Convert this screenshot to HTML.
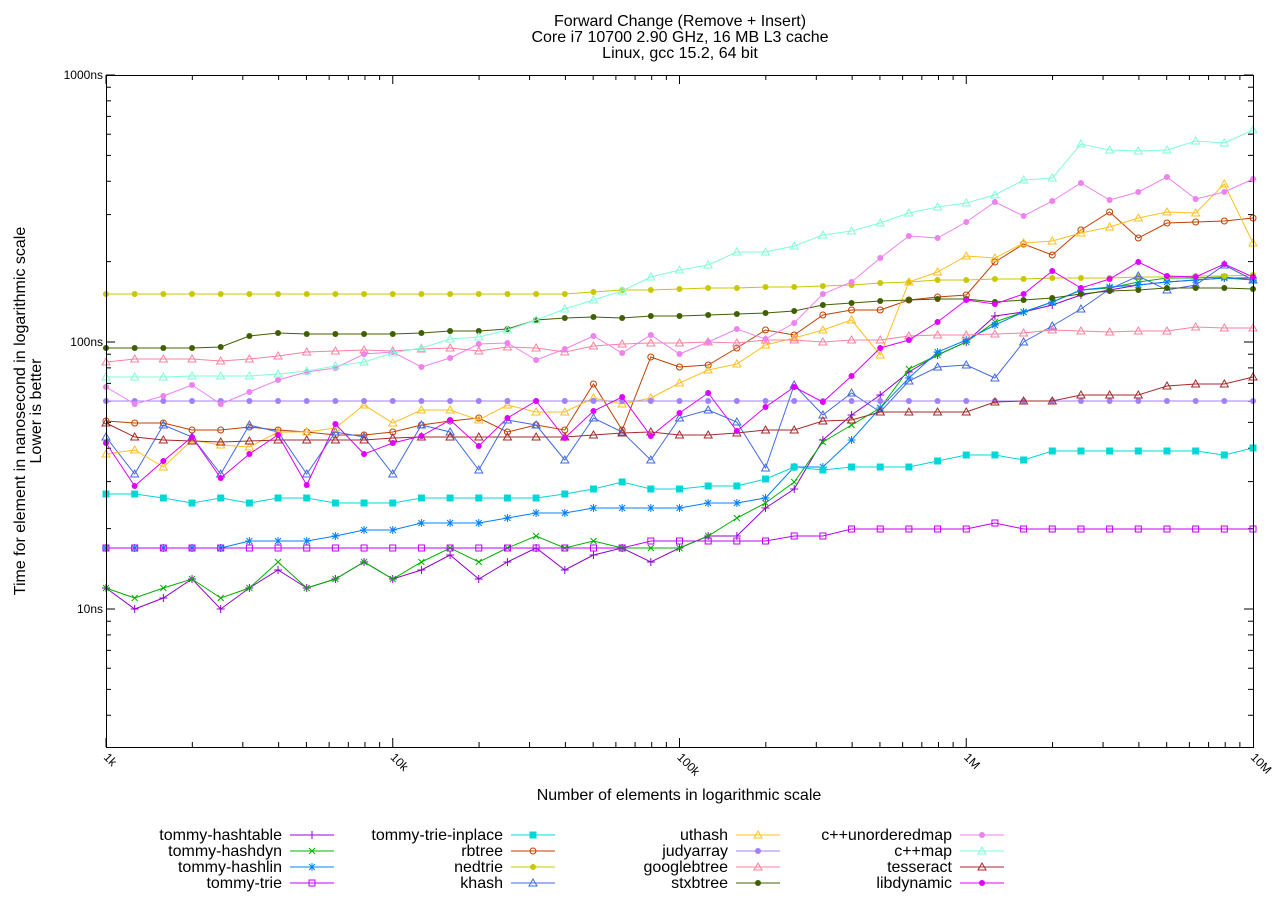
<!DOCTYPE html>
<html><head><meta charset="utf-8"><style>
html,body{margin:0;padding:0;background:#fff;}
svg text{font-family:"Liberation Sans",Arial,sans-serif;}
</style></head><body>
<svg id="s" width="1280" height="900" xmlns="http://www.w3.org/2000/svg">
<rect width="1280" height="900" fill="#fff"/>
<g font-size="16" text-anchor="middle" fill="#000">
<text x="680" y="26">Forward Change (Remove + Insert)</text>
<text x="680" y="42">Core i7 10700 2.90 GHz, 16 MB L3 cache</text>
<text x="680" y="58">Linux, gcc 15.2, 64 bit</text>
<text x="679" y="800">Number of elements in logarithmic scale</text>
<text transform="translate(25,411) rotate(-90)">Time for element in nanosecond in logarithmic scale</text>
<text transform="translate(41,411) rotate(-90)">Lower is better</text>
</g>
<g font-size="12" text-anchor="end">
<text x="103" y="79">1000ns</text>
<text x="103" y="346">100ns</text>
<text x="103" y="613">10ns</text>
</g>
<g id="ticks" stroke="#000" stroke-width="1"></g>
<g id="series"></g>
<rect x="106.5" y="75.5" width="1147" height="672" fill="none" stroke="#000"/>
<g id="legend" font-size="16"></g>
</svg>
<script>
const NS="http://www.w3.org/2000/svg";
function el(t,a,p){const e=document.createElementNS(NS,t);for(const k in a)e.setAttribute(k,a[k]);p.appendChild(e);return e;}
const tk=document.getElementById('ticks');
const X0=106,DX=286.75,Y0=75,DY=267;
for(let d=0;d<4;d++){for(let m=1;m<10;m++){const x=X0+DX*(d+Math.log10(m));const L=m==1?9:5;
el('line',{x1:x,y1:747,x2:x,y2:747-L},tk);el('line',{x1:x,y1:75,x2:x,y2:75+L},tk);}}
const xl=['1k','10k','100k','1M','10M'];
xl.forEach((t,i)=>{const x=X0+DX*i;const tx=el('text',{x:0,y:0,'font-size':12,transform:`translate(${x-3},${758}) rotate(45)`},document.getElementById('s'));tx.textContent=t;});
for(let d=-1;d<3;d++){for(let m=1;m<10;m++){const yy=Y0+DY*(2-d-Math.log10(m));if(yy<75||yy>747)continue;const L=m==1?9:5;
el('line',{x1:106,y1:yy,x2:106+L,y2:yy},tk);el('line',{x1:1253,y1:yy,x2:1253-L,y2:yy},tk);}}
const S=[
['tommy-hashtable','#9400d3','plus',[588,609,598,579,609,588,570,588,579,562,579,570,555,579,562,548,570,555,548,562,548,536,536,508,489,440,415,395,372,355,342,316,312,305,295,290,285,282,280,278,278]],
['tommy-hashdyn','#00b000','x',[588,598,588,579,598,588,562,588,579,562,579,562,548,562,548,536,548,541,548,548,548,536,518,503,482,442,425,408,369,355,342,322,312,302,290,288,282,278,278,277,280]],
['tommy-hashlin','#0080ff','star',[548,548,548,548,548,541,541,541,536,530,530,523,523,523,518,513,513,508,508,508,508,503,503,498,467,467,440,408,378,352,340,325,312,302,290,287,285,282,280,278,280]],
['tommy-trie','#c000ff','osq',[548,548,548,548,548,548,548,548,548,548,548,548,548,548,548,548,548,548,548,541,541,541,541,541,536,536,529,529,529,529,529,523,529,529,529,529,529,529,529,529,529]],
['tommy-trie-inplace','#00d8d8','fsq',[494,494,498,503,498,503,498,498,503,503,503,498,498,498,498,498,494,489,482,489,489,486,486,479,467,470,467,467,467,461,455,455,460,451,451,451,451,451,451,455,448]],
['rbtree','#c04000','ocir',[421,423,423,430,430,427,430,432,435,435,432,425,421,418,432,425,430,384,430,357,367,365,348,330,335,315,310,310,300,297,295,262,244,255,230,212,238,223,222,221,218]],
['nedtrie','#c8c800','fcir',[294,294,294,294,294,294,294,294,294,294,294,294,294,294,294,294,294,292,290,290,289,288,288,287,287,286,285,283,282,280,280,279,279,278,278,278,277,277,276,276,275]],
['khash','#4169e1','otri',[437,474,425,437,474,425,432,474,432,437,474,425,432,470,420,425,460,418,432,460,418,410,422,468,385,415,393,412,381,367,365,378,342,326,309,289,276,290,285,265,280]],
['uthash','#ffc020','otri',[454,450,467,440,445,447,432,432,428,405,423,410,410,420,405,412,412,398,404,398,383,370,364,345,338,330,320,355,282,272,256,258,243,241,233,227,218,212,213,184,243]],
['judyarray','#a080ff','fcir',Array(41).fill(401)],
['googlebtree','#ff80a0','otri',[362,359,359,359,361,359,356,352,351,350,351,349,348,351,347,348,352,346,344,343,343,342,343,340,340,342,340,340,336,335,335,334,333,330,331,332,331,331,327,328,328]],
['stxbtree','#406000','fcir',[348,348,348,348,347,336,333,334,334,334,334,333,331,331,329,320,318,317,318,316,316,315,314,313,311,305,303,301,300,299,299,302,300,298,294,291,290,288,288,288,289]],
['c++unorderedmap','#ee82ee','fcir',[387,404,396,385,404,392,380,372,368,354,352,367,358,344,343,360,349,336,353,335,354,342,329,339,323,294,282,258,236,238,222,202,216,201,183,200,192,177,199,192,179]],
['c++map','#7fffd4','otri',[377,377,377,376,376,376,374,371,366,362,353,348,339,337,330,320,309,300,291,277,270,265,252,252,246,235,231,223,213,207,203,195,180,178,144,150,151,150,141,143,130]],
['tesseract','#a52a2a','otri',[423,437,440,441,442,441,440,440,440,440,438,437,437,437,437,437,437,435,433,432,435,435,433,430,430,421,420,412,412,412,412,402,401,401,395,395,395,386,384,384,377]],
['libdynamic','#e000ff','fcir',[443,486,461,437,478,454,435,485,424,454,443,436,420,446,418,401,438,411,397,436,413,393,431,407,387,402,376,348,340,322,300,304,294,271,288,279,262,276,277,264,277]]
];
function mark(g,t,x,y,c){
 const s={stroke:c,'stroke-width':1,fill:'none'};
 if(t=='plus'){el('path',Object.assign({d:`M${x-4} ${y}h8M${x} ${y-4}v8`},s),g);}
 else if(t=='x'){el('path',Object.assign({d:`M${x-3} ${y-3}l6 6M${x-3} ${y+3}l6 -6`},s),g);}
 else if(t=='star'){el('path',Object.assign({d:`M${x-4} ${y}h8M${x} ${y-4}v8M${x-3} ${y-3}l6 6M${x-3} ${y+3}l6 -6`},s),g);}
 else if(t=='osq'){el('rect',Object.assign({x:x-3,y:y-3,width:6,height:6},s),g);}
 else if(t=='fsq'){el('rect',{x:x-3.5,y:y-3.5,width:7,height:7,fill:c},g);}
 else if(t=='ocir'){el('circle',Object.assign({cx:x,cy:y,r:3},s),g);}
 else if(t=='fcir'){el('circle',{cx:x,cy:y,r:3,fill:c},g);}
 else if(t=='otri'){el('path',Object.assign({d:`M${x} ${y-4}L${x+4} ${y+3}L${x-4} ${y+3}Z`},s),g);}
}
const sg=document.getElementById('series'),lg=document.getElementById('legend');
S.forEach((sr,k)=>{
 const g=el('g',{},sg);
 const pts=sr[3].map((y,i)=>[X0+i*DX/10,y]);
 el('polyline',{points:pts.map(p=>p.join(',')).join(' '),fill:'none',stroke:sr[1],'stroke-width':1},g);
 pts.forEach(p=>mark(g,sr[2],p[0],p[1],sr[1]));
 const col=Math.floor(k/4),row=k%4;
 const xe=[282,503,728,952][col],ly=835+row*16;
 const t=el('text',{x:xe,y:ly+5,'text-anchor':'end'},lg);t.textContent=sr[0];
 el('line',{x1:xe+8,y1:ly,x2:xe+52,y2:ly,stroke:sr[1]},lg);
 mark(lg,sr[2],xe+30,ly,sr[1]);
});
</script>
</body></html>
